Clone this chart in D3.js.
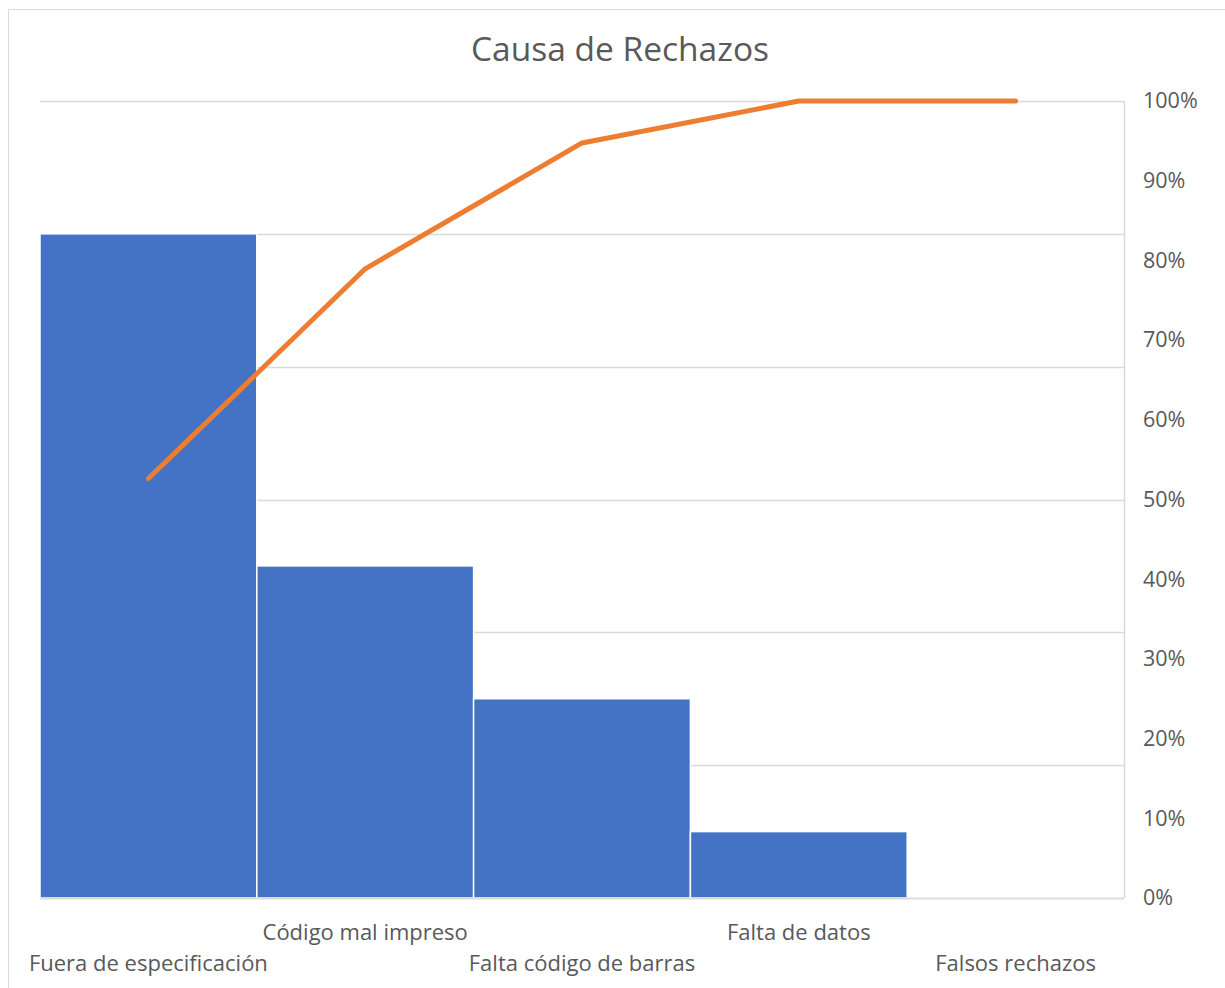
<!DOCTYPE html>
<html><head><meta charset="utf-8">
<script src="https://cdn.jsdelivr.net/npm/d3@7"></script>
<style>body{margin:0;background:#fff}</style>
</head><body>
<svg id="c" width="1225" height="988"></svg>
<script>
const categories = ["Fuera de especificación","Código mal impreso","Falta código de barras","Falta de datos","Falsos rechazos"];
const counts = [50, 25, 15, 5, 0];
const leftTicks = [0,10,20,30,40,50,60];
const pctTicks = [0,0.1,0.2,0.3,0.4,0.5,0.6,0.7,0.8,0.9,1.0];
const title = "Causa de Rechazos";

const total = d3.sum(counts);
let acc = 0;
const cumulative = counts.map(v => (acc += v) / total);

const svg = d3.select("#c");
const font = "'Open Sans', Lato, sans-serif";
const gray = "#595959";

svg.append("rect").attr("x",8.5).attr("y",9.5).attr("width",1240).attr("height",1000)
  .attr("fill","#fff").attr("stroke","#d9d9d9").attr("stroke-width",1);

const L = 40, R = 1124, T = 101, B = 898;
const x = d3.scaleBand().domain(categories).range([L,R]).padding(0);
const y = d3.scaleLinear().domain([0,60]).range([B,T]);
const y2 = d3.scaleLinear().domain([0,1]).range([B,T]);

svg.append("text").attr("x",620).attr("y",61).attr("text-anchor","middle")
  .attr("font-family",font).attr("font-size",33.5).attr("fill",gray).text(title);

svg.append("g").selectAll("line").data(leftTicks).join("line")
  .attr("x1",L).attr("x2",R).attr("y1",d=>Math.round(y(d))+0.5).attr("y2",d=>Math.round(y(d))+0.5)
  .attr("stroke","#d9d9d9").attr("stroke-width",1.5);

svg.append("g").selectAll("rect").data(counts).join("rect")
  .attr("x",(d,i)=>x(categories[i])).attr("width",x.bandwidth())
  .attr("y",d=>y(d)).attr("height",d=>B-y(d))
  .attr("fill","#4472C4").attr("stroke","#fff").attr("stroke-width",1.5);

svg.append("line").attr("x1",R+0.5).attr("x2",R+0.5).attr("y1",T).attr("y2",B)
  .attr("stroke","#d9d9d9").attr("stroke-width",1.5);
svg.append("line").attr("x1",L).attr("x2",R).attr("y1",B+0.5).attr("y2",B+0.5)
  .attr("stroke","#d9d9d9").attr("stroke-width",1.5);

const ax = d3.axisRight(y2).tickValues(pctTicks).tickFormat(d3.format(".0%")).tickSize(0).tickPadding(19);
const g2 = svg.append("g").attr("transform",`translate(${R},0)`).call(ax);
g2.select(".domain").remove();
g2.selectAll("text").attr("font-family",font).attr("font-size",21.5).attr("fill",gray);

const line = d3.line().x((d,i)=>x(categories[i])+x.bandwidth()/2).y(d=>y2(d));
svg.append("path").datum(cumulative).attr("d",line).attr("fill","none")
  .attr("stroke","#ED7D31").attr("stroke-width",5).attr("stroke-linecap","round").attr("stroke-linejoin","round");

svg.append("g").selectAll("text").data(categories).join("text")
  .attr("x",d=>x(d)+x.bandwidth()/2)
  .attr("y",(d,i)=> i%2===0 ? 971 : 940)
  .attr("text-anchor","middle").attr("font-family",font).attr("font-size",22).attr("fill",gray)
  .text(d=>d);
</script>
</body></html>
